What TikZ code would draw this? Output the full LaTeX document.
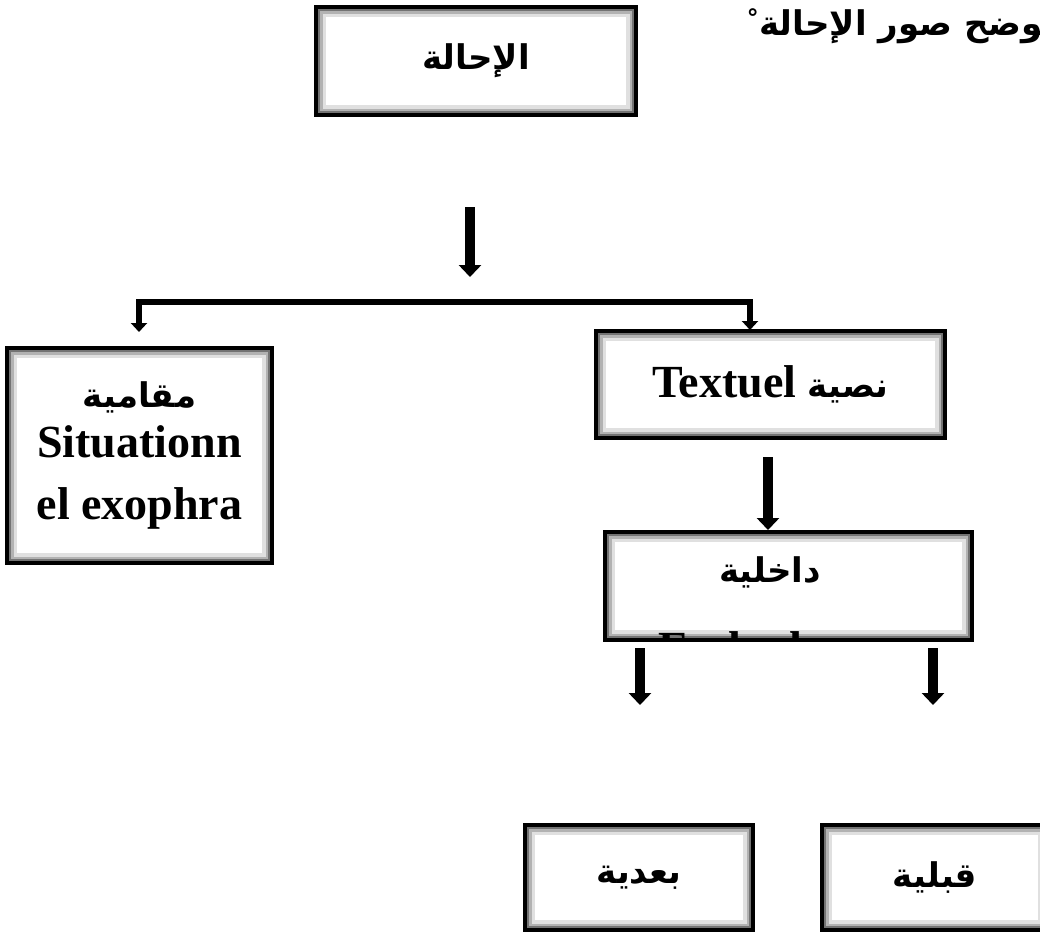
\documentclass[tikz,border=0pt]{standalone}
\usepackage{fontspec}
\setmainfont{Liberation Serif}
\newfontfamily\arabicfont[Script=Arabic]{DejaVu Sans}
\TeXXeTstate=1
\usetikzlibrary{arrows.meta}

\newcommand{\arlabel}[1]{{\arabicfont\fontsize{34}{44}\selectfont\beginR #1\endR}}

\tikzset{
  frame/.style={draw, line width=4.5pt, fill=white, inner sep=0pt, align=center,
    font=\fontsize{46}{62}\selectfont\bfseries,
    path picture={
      \draw[black!12, line width=20pt] (path picture bounding box.south west) rectangle (path picture bounding box.north east);
      \draw[black!30, line width=13pt] (path picture bounding box.south west) rectangle (path picture bounding box.north east);
      \draw[black!55, line width=8pt] (path picture bounding box.south west) rectangle (path picture bounding box.north east);
    }},
  blockarrow/.style={line width=10pt, -{Triangle[width=22pt,length=12pt]}},
  bracket/.style={line width=6pt, {Triangle[width=16pt,length=9pt]}-{Triangle[width=16pt,length=9pt]}},
}

\begin{document}
\begin{tikzpicture}[x=1pt, y=-1pt]
\clip (0,0) rectangle (1040,932);

% caption, cut at the right edge
\node[anchor=east, inner sep=0pt, font=\bfseries] (caption) at (1056,26) {\arlabel{يوضح صور الإحالة\textsuperscript{°}}};

% boxes
\node[frame, minimum width=320pt, minimum height=108pt] (root) at (476,61) {\arlabel{الإحالة}};
\node[frame, minimum width=265pt, minimum height=215pt] (situ) at (139.5,455.5) {\arlabel{مقامية}\\[-12pt]Situationn\\el exophra};
\node[frame, minimum width=349pt, minimum height=107pt] (textual) at (770.5,384.5) {Textuel \arlabel{نصية}};
\node[frame, minimum width=367pt, minimum height=108pt] (endo) at (788.5,586) {};
\node[frame, minimum width=228pt, minimum height=105pt] (after) at (639,877.5) {\arlabel{بعدية}};
\node[frame, minimum width=226pt, minimum height=105pt] (before) at (935,877.5) {\arlabel{قبلية}};

% second line of the inner box is cut by its frame
\begin{scope}
\clip ([yshift=2.25pt]endo.south west) rectangle (endo.north east);
\node[anchor=north, align=center, inner sep=0pt, font=\fontsize{46}{62}\selectfont\bfseries] (endoText) at (770,556) {\arlabel{داخلية}\\[19pt]Endophora};
\end{scope}

% arrows
\coordinate (rootOut) at (470,207);
\coordinate (splitIn) at (470,277);
\coordinate (splitBar) at (470,302);
\coordinate (situIn) at (139,332);
\coordinate (textualIn) at (750,330);
\coordinate (textualOut) at (768,457);
\coordinate (endoIn) at (768,530);
\coordinate (afterOut) at (640,648);
\coordinate (afterIn) at (640,705);
\coordinate (beforeOut) at (933,648);
\coordinate (beforeIn) at (933,705);

\draw[blockarrow] (rootOut) -- (splitIn);
\draw[bracket] (situIn) |- (splitBar) -| (textualIn);
\draw[blockarrow] (textualOut) -- (endoIn);
\draw[blockarrow] (afterOut) -- (afterIn);
\draw[blockarrow] (beforeOut) -- (beforeIn);
\end{tikzpicture}
\end{document}
